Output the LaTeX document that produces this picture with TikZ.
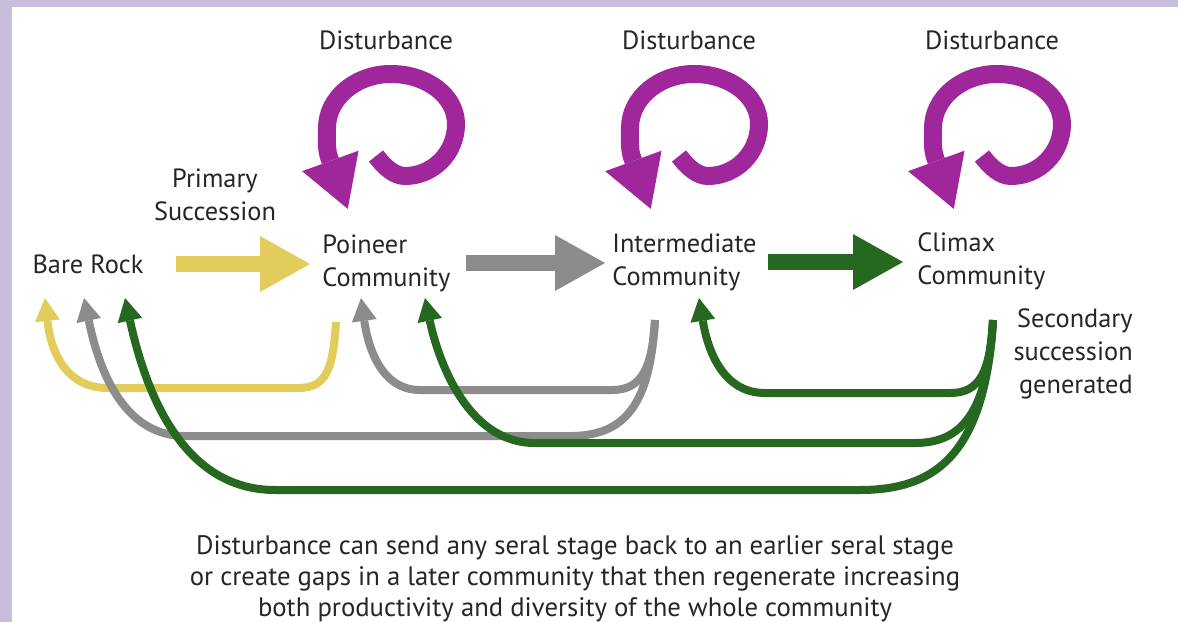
\documentclass[tikz,border=0pt]{standalone}
\usepackage{fontspec}
\setmainfont{PT Sans}
\usetikzlibrary{arrows.meta,positioning}

\definecolor{lav}{RGB}{200,190,220}
\definecolor{yel}{RGB}{226,204,92}
\definecolor{gry}{RGB}{140,140,140}
\definecolor{grn}{RGB}{38,104,32}
\definecolor{mag}{RGB}{160,38,156}
\definecolor{txt}{RGB}{38,38,38}

\tikzset{
  lbl/.style={font=\fontsize{15}{18.7}\selectfont, text=txt, inner sep=0pt},
  bigarr/.style={#1, line width=0.32cm, -{Triangle[length=1cm,width=1.12cm,line width=0pt]}},
  back/.style={#1, line width=0.16cm, -{Triangle[length=0.46cm,width=0.5cm,line width=0pt]}},
  swirl/.style={mag, line width=0.36cm, -{Triangle[length=1.02cm,width=1.2cm,line width=0pt]}},
}

\begin{document}
\begin{tikzpicture}[x=0.02cm,y=-0.02cm]
    \useasboundingbox (0,0) rectangle (1178,622);
    \fill[white] (0,0) rectangle (1178,622);
    \fill[lav] (0,0) rectangle (1178,7);
    \fill[lav] (0,0) rectangle (12,622);

    % stages
    \node[lbl] (bare) at (88,264) {Bare Rock};
    \node[lbl, align=center] (prim) at (215,195) {Primary\\Succession};
    \node[lbl, anchor=west, align=left] (pio) at (322,263) {Poineer\\Community};
    \node[lbl, anchor=west, align=left] (int) at (612,262) {Intermediate\\Community};
    \node[lbl, anchor=west, align=left] (clx) at (917,261) {Climax\\Community};
    \node[lbl, anchor=east, align=right] (sec) at (1133,354) {Secondary\\succession\\generated};

    % disturbance loops
    \foreach \cx/\nm in {391/d1,694/d2,997/d3} {
      \node[lbl] (\nm) at (\cx-5,40) {Disturbance};
      \begin{scope}[shift={(\cx,124)}]
        \draw[swirl] (-15,32) .. controls (-6,44) and (4,52) .. (14,52)
          .. controls (42,52) and (65,29) .. (65,0)
          .. controls (65,-28) and (36,-50) .. (0,-50)
          .. controls (-35,-50) and (-64,-26) .. (-64,4)
          .. controls (-64,18) and (-65,26) .. (-61,36) -- ++(70:52);
      \end{scope}
    }

    % forward succession
    \draw[bigarr=yel, shorten <=0.64cm, shorten >=0.24cm] (bare.east) -- (bare.east -| pio.west);
    \draw[bigarr=gry, shorten <=0.3cm, shorten >=0.14cm] (pio.east) -- (pio.east -| int.west);
    \draw[bigarr=grn, shorten <=0.22cm, shorten >=0.28cm] (int.east) -- (int.east -| clx.west);

    % return paths
    \coordinate (bare-in1) at (45,298);
    \coordinate (bare-in2) at (84,298);
    \coordinate (bare-in3) at (125,298);
    \coordinate (pio-out) at (336,322);
    \coordinate (pio-in1) at (361,298);
    \coordinate (pio-in2) at (425,298);
    \coordinate (int-out) at (655,320);
    \coordinate (int-in) at (699,298);
    \coordinate (clx-out) at (993,320);

    \draw[back=yel] (pio-out) .. controls (333,372) and (325,388) .. (298,388)
      -- (108,388) .. controls (62,388) and (50,345) .. (bare-in1);
    \draw[back=gry] (int-out) .. controls (652,368) and (642,390) .. (612,390)
      -- (420,390) .. controls (378,390) and (367,340) .. (pio-in1);
    \draw[back=gry] (int-out) .. controls (650,405) and (625,436) .. (570,436)
      -- (185,436) .. controls (115,436) and (95,350) .. (bare-in2);
    \draw[back=grn] (clx-out) .. controls (990,372) and (980,393) .. (950,393)
      -- (765,393) .. controls (718,393) and (706,340) .. (int-in);
    \draw[back=grn] (clx-out) .. controls (988,412) and (962,443) .. (915,443)
      -- (535,443) .. controls (465,443) and (437,355) .. (pio-in2);
    \draw[back=grn] (clx-out) .. controls (985,455) and (935,490) .. (860,490)
      -- (275,490) .. controls (175,490) and (142,375) .. (bare-in3);

    \node[lbl, align=center, font=\fontsize{15.2}{17.6}\selectfont] (note) at (575,579)
      {Disturbance can send any seral stage back to an earlier seral stage\\or create gaps in a later community that then regenerate increasing\\both productivity and diversity of the whole community};
\end{tikzpicture}
\end{document}
